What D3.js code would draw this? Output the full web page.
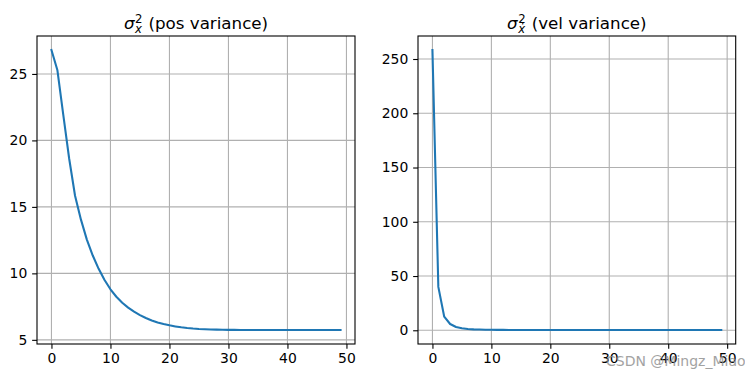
<!DOCTYPE html>
<html lang="en">
<head>
	<meta charset="UTF-8">
	<title>Variance</title>
	<script type="text/javascript" src="https://cdn.jsdelivr.net/npm/d3@7"></script>
	<style>
		body { margin: 0; background: #fff; }
		text { font-family: "DejaVu Sans", sans-serif; }
		.tick text { font-size: 13.9px; fill: #000; }
		.tick line { stroke: #000; stroke-width: 1.1px; }
		.domain { display: none; }
		.grid line { stroke: #b0b0b0; stroke-width: 1.1px; }
		.spine { fill: none; stroke: #000; stroke-width: 1.1px; }
		.curve { fill: none; stroke: #1f77b4; stroke-width: 2.08px; stroke-linejoin: round; stroke-linecap: square; }
	</style>
</head>
<body>
<script type="text/javascript">
	// step index 0..49
	var steps = d3.range(50);

	var posVar = [26.8, 25.3, 21.94, 18.64, 15.84, 14.04, 12.54, 11.34, 10.34, 9.5,
		8.8, 8.24, 7.79, 7.42, 7.12, 6.86, 6.64, 6.46, 6.31, 6.19,
		6.09, 6.01, 5.94, 5.89, 5.85, 5.82, 5.8, 5.78, 5.77, 5.76,
		5.75, 5.75, 5.74, 5.74, 5.74, 5.74, 5.74, 5.74, 5.74, 5.74,
		5.74, 5.74, 5.74, 5.74, 5.74, 5.74, 5.74, 5.74, 5.74, 5.74];

	var velVar = [258.3, 40, 12.5, 5.8, 3.0, 1.8, 1.2, 0.85, 0.65, 0.52,
		0.44, 0.39, 0.35, 0.32, 0.3, 0.29, 0.28, 0.27, 0.265, 0.26,
		0.26, 0.26, 0.26, 0.26, 0.26, 0.26, 0.26, 0.26, 0.26, 0.26,
		0.26, 0.26, 0.26, 0.26, 0.26, 0.26, 0.26, 0.26, 0.26, 0.26,
		0.26, 0.26, 0.26, 0.26, 0.26, 0.26, 0.26, 0.26, 0.26, 0.26];

	var xTicks = [0, 10, 20, 30, 40, 50];
	var posTicks = [5, 10, 15, 20, 25];
	var velTicks = [0, 50, 100, 150, 200, 250];

	var svg = d3.select('body').append('svg')
		.attr('width', 745)
		.attr('height', 378);

	function panel(left, right, values, yTicks, sub, label) {
		var top = 36, bottom = 344;
		var x = d3.scaleLinear()
			.domain([-2.45, 51.45])
			.range([left, right]);
		var lo = d3.min(values), hi = d3.max(values), m = (hi - lo) * 0.05;
		var y = d3.scaleLinear()
			.domain([lo - m, hi + m])
			.range([bottom, top]);

		var g = svg.append('g');

		// grid
		g.append('g').attr('class', 'grid')
			.selectAll('line').data(xTicks).enter().append('line')
			.attr('x1', function(d){ return x(d); })
			.attr('x2', function(d){ return x(d); })
			.attr('y1', top).attr('y2', bottom);
		g.append('g').attr('class', 'grid')
			.selectAll('line').data(yTicks).enter().append('line')
			.attr('y1', function(d){ return y(d); })
			.attr('y2', function(d){ return y(d); })
			.attr('x1', left).attr('x2', right);

		g.append('path')
			.datum(steps)
			.attr('class', 'curve')
			.attr('d', d3.line()
				.x(function(d){ return x(d); })
				.y(function(d){ return y(values[d]); }));

		g.append('rect').attr('class', 'spine')
			.attr('x', left).attr('y', top)
			.attr('width', right - left).attr('height', bottom - top);

		g.append('g')
			.attr('transform', 'translate(0,' + bottom + ')')
			.call(d3.axisBottom(x).tickValues(xTicks).tickSize(4.86).tickPadding(4.2));
		g.append('g')
			.attr('transform', 'translate(' + left + ',0)')
			.call(d3.axisLeft(y).tickValues(yTicks).tickSize(4.86).tickPadding(4.86));

		// title: sigma with stacked sub/superscript
		var t = g.append('g');
		var s = t.append('text').attr('x', 0).attr('y', 0)
			.style('font-size', '16.7px').style('font-style', 'italic').text('σ');
		var w = s.node().getComputedTextLength() + 0.5;
		t.append('text').attr('x', w).attr('y', -6.5)
			.style('font-size', '11.7px').text('2');
		var sb = t.append('text').attr('x', w).attr('y', 3.5)
			.style('font-size', '11.7px').style('font-style', 'italic').text(sub);
		var w2 = Math.max(sb.node().getComputedTextLength(), 7.5);
		t.append('text').attr('x', w + w2 + 6).attr('y', 0)
			.style('font-size', '16.7px').text(label);
		var bb = t.node().getBBox();
		t.attr('transform', 'translate(' + ((left + right) / 2 - bb.x - bb.width / 2) + ',29)');
	}

	panel(37, 355, posVar, posTicks, 'x', '(pos variance)');
	panel(418, 735.7, velVar, velTicks, 'ẋ', '(vel variance)');

	svg.append('text')
		.attr('x', 606).attr('y', 366)
		.style('font-size', '14px')
		.style('fill', '#8c8c8c')
		.style('opacity', 0.8)
		.text('CSDN @Mingz_Miao');
</script>
</body>
</html>
